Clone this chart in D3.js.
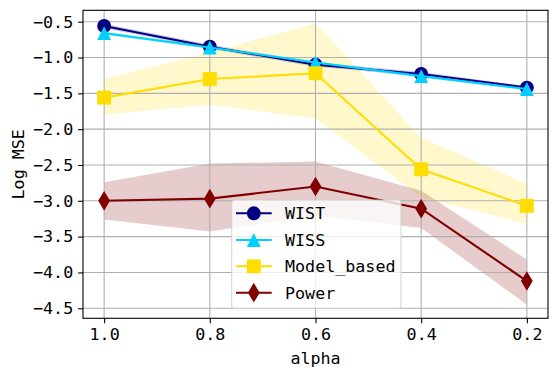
<!DOCTYPE html>
<html><head><meta charset="utf-8">
<script src="https://cdn.jsdelivr.net/npm/d3@7"></script>
<style>body{margin:0;background:#fff}text{font-family:"DejaVu Sans Mono",monospace}</style>
</head><body>
<svg id="c" width="558" height="379"></svg>
<script>
const alpha = [1.0, 0.8, 0.6, 0.4, 0.2];
const xTicks = [1.0, 0.8, 0.6, 0.4, 0.2];
const yTicks = [-0.5, -1.0, -1.5, -2.0, -2.5, -3.0, -3.5, -4.0, -4.5];
const seriesNames = ["WIST", "WISS", "Model_based", "Power"];
const WIST = [-0.56, -0.85, -1.10, -1.23, -1.42];
const WIST_hi = [-0.53, -0.82, -1.07, -1.20, -1.40];
const WIST_lo = [-0.59, -0.88, -1.13, -1.26, -1.44];
const WISS = [-0.66, -0.86, -1.07, -1.26, -1.44];
const WISS_hi = [-0.64, -0.84, -1.05, -1.24, -1.42];
const WISS_lo = [-0.68, -0.88, -1.09, -1.28, -1.46];
const Model = [-1.56, -1.30, -1.22, -2.56, -3.07];
const Model_hi = [-1.30, -0.93, -0.52, -2.12, -2.76];
const Model_lo = [-1.80, -1.66, -1.85, -2.95, -3.32];
const Power = [-3.00, -2.97, -2.80, -3.11, -4.12];
const Power_hi = [-2.74, -2.48, -2.45, -2.86, -3.82];
const Power_lo = [-3.26, -3.43, -3.20, -3.38, -4.45];

const colors = ["#000080", "#00d0ff", "#ffdd00", "#800000"];
const symbols = ["circle", "triangle", "square", "thindiamond"];
const series = [
  {name: seriesNames[0], v: WIST, hi: WIST_hi, lo: WIST_lo},
  {name: seriesNames[1], v: WISS, hi: WISS_hi, lo: WISS_lo},
  {name: seriesNames[2], v: Model, hi: Model_hi, lo: Model_lo},
  {name: seriesNames[3], v: Power, hi: Power_hi, lo: Power_lo}
];

const L = 83, R = 548, T = 10.3, B = 318.3;
const x = d3.scaleLinear().domain([1.04, 0.16]).range([L, R]);
const y = d3.scaleLinear().domain([-0.341, -4.64]).range([T, B]);
const svg = d3.select("#c");
const FS = 16.7;

// fills
series.forEach((s, i) => {
  const area = d3.area().x((d, j) => x(alpha[j])).y0((d, j) => y(s.lo[j])).y1((d, j) => y(s.hi[j]));
  svg.append("path").attr("d", area(alpha)).attr("fill", colors[i]).attr("fill-opacity", 0.2);
});

// grid
const g = svg.append("g");
xTicks.forEach(t => g.append("line").attr("x1", x(t)).attr("x2", x(t)).attr("y1", T).attr("y2", B)
  .attr("stroke", "#b0b0b0").attr("stroke-width", 1.1));
yTicks.forEach(t => g.append("line").attr("x1", L).attr("x2", R).attr("y1", y(t)).attr("y2", y(t))
  .attr("stroke", "#b0b0b0").attr("stroke-width", 1.1));

const ms = 13.9;
function marker(sel, type, color, cx, cy) {
  if (type === "circle") {
    sel.append("circle").attr("cx", cx).attr("cy", cy).attr("r", ms / 2).attr("fill", color);
  } else if (type === "triangle") {
    const h = ms / 2;
    sel.append("path").attr("d", `M${cx},${cy - h}L${cx - h},${cy + h}L${cx + h},${cy + h}Z`).attr("fill", color);
  } else if (type === "square") {
    sel.append("rect").attr("x", cx - ms / 2).attr("y", cy - ms / 2).attr("width", ms).attr("height", ms).attr("fill", color);
  } else {
    const hh = ms * Math.SQRT2 / 2, hw = hh * 0.6;
    sel.append("path").attr("d", `M${cx},${cy - hh}L${cx + hw},${cy}L${cx},${cy + hh}L${cx - hw},${cy}Z`).attr("fill", color);
  }
}

// lines
series.forEach((s, i) => {
  const line = d3.line().x((d, j) => x(alpha[j])).y(d => y(d));
  svg.append("path").attr("d", line(s.v)).attr("fill", "none").attr("stroke", colors[i]).attr("stroke-width", 2.1);
  const mg = svg.append("g");
  s.v.forEach((d, j) => marker(mg, symbols[i], colors[i], x(alpha[j]), y(d)));
});

// spines
svg.append("rect").attr("x", L).attr("y", T).attr("width", R - L).attr("height", B - T)
  .attr("fill", "none").attr("stroke", "#000").attr("stroke-width", 1.1);

// axes ticks
const ax = svg.append("g").attr("transform", `translate(0,${B})`)
  .call(d3.axisBottom(x).tickValues(xTicks).tickFormat(d3.format(".1f")).tickSize(4.9).tickPadding(4.9));
const ay = svg.append("g").attr("transform", `translate(${L},0)`)
  .call(d3.axisLeft(y).tickValues(yTicks).tickFormat(d => d3.format(".1f")(d).replace("-", "\u2212")).tickSize(4.9).tickPadding(4.9));
[ax, ay].forEach(a => {
  a.select(".domain").remove();
  a.selectAll("line").attr("stroke", "#000").attr("stroke-width", 1.1);
  a.selectAll("text").attr("font-size", FS).attr("font-family", "DejaVu Sans Mono").attr("fill", "#000");
});

svg.append("text").attr("x", (L + R) / 2).attr("y", 364).attr("text-anchor", "middle")
  .attr("font-size", FS).text("alpha");
svg.append("text").attr("transform", `translate(24,${(T + B) / 2}) rotate(-90)`).attr("text-anchor", "middle")
  .attr("font-size", FS).text("Log MSE");

// legend
const lg = svg.append("g");
lg.append("rect").attr("x", 231.7).attr("y", 200).attr("width", 169.3).attr("height", 108.3).attr("rx", 2.8)
  .attr("fill", "#fff").attr("fill-opacity", 0.8).attr("stroke", "#cccccc").attr("stroke-opacity", 0.8).attr("stroke-width", 1.1);
const ly = [213.3, 240, 266.3, 292.7];
series.forEach((s, i) => {
  lg.append("line").attr("x1", 236).attr("x2", 271.7).attr("y1", ly[i]).attr("y2", ly[i])
    .attr("stroke", colors[i]).attr("stroke-width", 2.1);
  marker(lg, symbols[i], colors[i], 253.8, ly[i]);
  lg.append("text").attr("x", 285).attr("y", ly[i]).attr("dy", "0.36em").attr("font-size", FS).text(s.name);
});
</script>
</body></html>
